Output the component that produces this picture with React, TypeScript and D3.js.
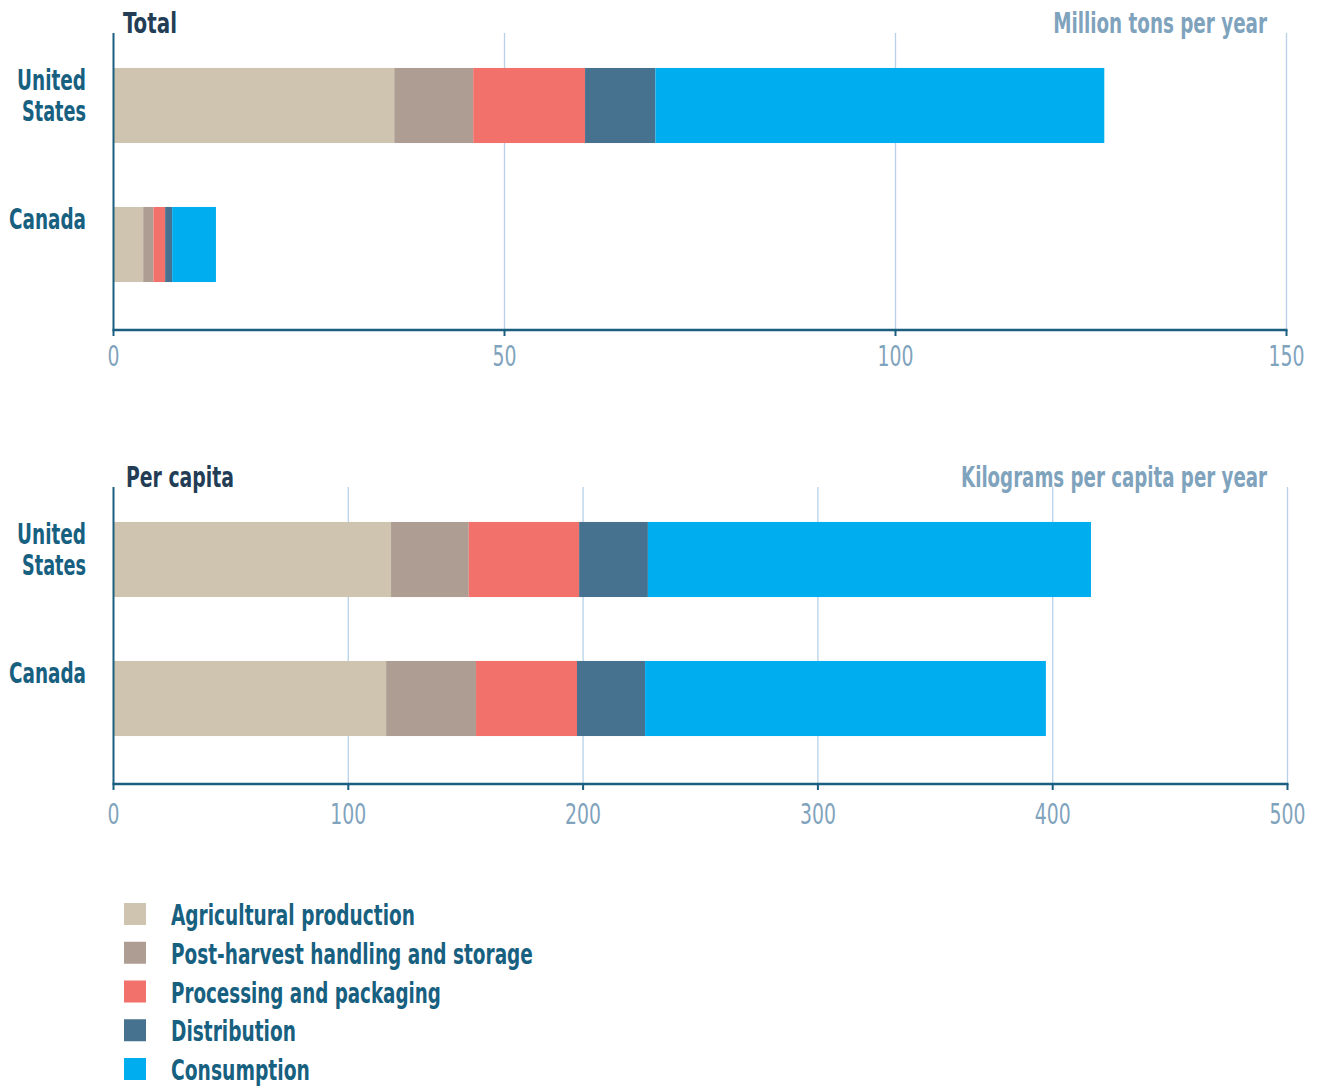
import React, { useLayoutEffect, useRef, useState } from "react";
import * as d3 from "d3";

// Food loss and waste by supply-chain stage
const countries = ["United States", "Canada"];
const countryLines = [["United", "States"], ["Canada"]];
const stages = [
  "Agricultural production",
  "Post-harvest handling and storage",
  "Processing and packaging",
  "Distribution",
  "Consumption",
];
const stageColors = ["#cfc4b0", "#ae9d92", "#f2716b", "#47728f", "#00adee"];

// Million tons per year
const totalUS = [35.9, 10.1, 14.3, 9.0, 57.4];
const totalCanada = [3.8, 1.3, 1.5, 0.9, 5.6];
const totalTicks = [0, 50, 100, 150];

// Kilograms per capita per year
const perCapitaUS = [118.2, 33.1, 47.0, 29.3, 188.7];
const perCapitaCanada = [116.1, 38.3, 43.0, 29.0, 170.7];
const perCapitaTicks = [0, 100, 200, 300, 400, 500];

const FONT = "'Liberation Sans Narrow', 'DejaVu Sans Condensed', 'Roboto', sans-serif";
const DARK = "#223d55";
const TEAL = "#17607f";
const PALE = "#7fa3bd";
const AXIS = "#1a5e80";
const GRID = "#b7d2e8";

type FitProps = {
  x: number;
  y: number;
  width: number;
  anchor?: "start" | "middle" | "end";
  fill: string;
  size: number;
  weight?: string;
  children: string | number;
};

// Condensed label: horizontally scaled so the set string spans `width` pixels
function FitText({ x, y, width, anchor = "start", fill, size, weight = "bold", children }: FitProps) {
  const ref = useRef<SVGTextElement>(null);
  const [sx, setSx] = useState(1);
  useLayoutEffect(() => {
    if (ref.current) {
      const natural = ref.current.getComputedTextLength();
      if (natural > 0) setSx(width / natural);
    }
  }, [width, children, size]);
  return (
    <text
      ref={ref}
      transform={`translate(${x},${y}) scale(${sx},1)`}
      textAnchor={anchor}
      fill={fill}
      fontSize={size}
      fontWeight={weight}
      fontFamily={FONT}
    >
      {children}
    </text>
  );
}

type PanelProps = {
  y0: number;
  title: string;
  titleX: number;
  titleWidth: number;
  unit: string;
  unitWidth: number;
  series: number[][];
  ticks: number[];
  xRight: number;
  tickOffset: number;
};

const countryWidths = [[69, 64], [77]];

function Panel({ y0, title, titleX, titleWidth, unit, unitWidth, series, ticks, xRight, tickOffset }: PanelProps) {
  const gridTop = y0 - 3;
  const axisY = y0 + 294;
  const x = d3
    .scaleLinear()
    .domain([ticks[0], ticks[ticks.length - 1]])
    .range([113.5, xRight]);
  const y = d3
    .scaleBand<string>()
    .domain(countries)
    .range([y0, y0 + 278])
    .paddingInner(0.46)
    .paddingOuter(0.23);

  const rows = countries.map((c, i) => {
    const row: Record<string, any> = { country: c };
    stages.forEach((s, j) => (row[s] = series[i][j]));
    return row;
  });
  const stacked = d3.stack<Record<string, any>>().keys(stages)(rows);

  return (
    <g>
      {ticks.slice(1).map((t) => (
        <line key={"g" + t} x1={x(t)} x2={x(t)} y1={gridTop} y2={axisY} stroke={GRID} strokeWidth={1.3} />
      ))}
      {stacked.map((layer, j) => (
        <g key={stages[j]} fill={stageColors[j]}>
          {layer.map((d, i) => (
            <rect
              key={countries[i]}
              x={x(d[0])}
              y={y(countries[i])}
              width={x(d[1]) - x(d[0])}
              height={y.bandwidth()}
            />
          ))}
        </g>
      ))}
      <line x1={x(0)} x2={x(0)} y1={gridTop} y2={axisY} stroke={AXIS} strokeWidth={2} />
      <line x1={x(0) - 1} x2={xRight + 1} y1={axisY} y2={axisY} stroke={AXIS} strokeWidth={2.6} />
      {ticks.map((t) => (
        <g key={"t" + t}>
          <line x1={x(t)} x2={x(t)} y1={axisY} y2={axisY + 6} stroke={AXIS} strokeWidth={2} />
          <FitText
            x={x(t)}
            y={axisY + tickOffset}
            width={String(t).length * 12}
            anchor="middle"
            fill={PALE}
            size={28}
            weight="normal"
          >
            {t}
          </FitText>
        </g>
      ))}
      <FitText x={titleX} y={y0 - 3} width={titleWidth} fill={DARK} size={29}>
        {title}
      </FitText>
      <FitText x={1267} y={y0 - 3} width={unitWidth} anchor="end" fill={PALE} size={29}>
        {unit}
      </FitText>
      {countries.map((c, i) =>
        countryLines[i].map((line, k) => (
          <FitText
            key={c + k}
            x={86}
            y={(y(c) as number) + 22 + k * 31}
            width={countryWidths[i][k]}
            anchor="end"
            fill={TEAL}
            size={29}
          >
            {line}
          </FitText>
        ))
      )}
    </g>
  );
}

const legendWidths = [244, 362, 270, 125, 139];

export default function App() {
  const legendY = d3
    .scalePoint<string>()
    .domain(stages)
    .range([903, 1058]);
  return (
    <svg width={1322} height={1088} style={{ display: "block", position: "absolute", left: 0, top: 0 }}>
      <rect width={1322} height={1088} fill="#ffffff" />
      <Panel
        y0={36}
        title="Total"
        titleX={123}
        titleWidth={54}
        unit="Million tons per year"
        unitWidth={214}
        series={[totalUS, totalCanada]}
        ticks={totalTicks}
        xRight={1286.5}
        tickOffset={36}
      />
      <Panel
        y0={490}
        title="Per capita"
        titleX={126}
        titleWidth={108}
        unit="Kilograms per capita per year"
        unitWidth={306}
        series={[perCapitaUS, perCapitaCanada]}
        ticks={perCapitaTicks}
        xRight={1287.5}
        tickOffset={40}
      />
      {stages.map((s, i) => (
        <g key={s}>
          <rect x={124} y={legendY(s)} width={22} height={22} fill={stageColors[i]} />
          <FitText x={171} y={(legendY(s) as number) + 22} width={legendWidths[i]} fill={TEAL} size={28}>
            {s}
          </FitText>
        </g>
      ))}
    </svg>
  );
}
